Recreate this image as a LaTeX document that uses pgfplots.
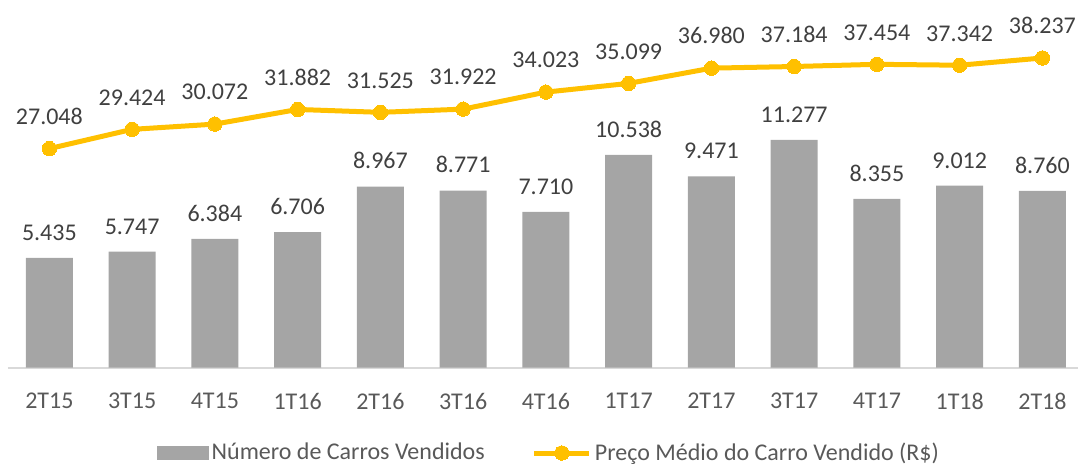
\documentclass[border=0pt]{standalone}
\usepackage{pgfplots}
\pgfplotsset{compat=1.18}
\usepackage{pgfplotstable}
\usepackage{fontspec}
\setmainfont{Carlito}
\definecolor{bargray}{HTML}{A5A5A5}
\definecolor{gold}{HTML}{FFC000}
\definecolor{lbl}{HTML}{404040}
\definecolor{tck}{HTML}{595959}
\definecolor{axl}{HTML}{D9D9D9}
\pgfplotsset{
  barleg/.style={legend image code/.code={\fill[bargray] (0pt,-3.3pt) rectangle (25.5pt,3.3pt);}},
  lineleg/.style={legend image code/.code={\draw[##1, mark repeat=2, mark phase=2] plot coordinates {(0pt,0pt) (13.8pt,0pt) (27.6pt,0pt)};}},
}
\pgfplotstableread{
x y lab
0 5.435 5.435
1 5.747 5.747
2 6.384 6.384
3 6.706 6.706
4 8.967 8.967
5 8.771 8.771
6 7.710 7.710
7 10.538 10.538
8 9.471 9.471
9 11.277 11.277
10 8.355 8.355
11 9.012 9.012
12 8.760 8.760
}\bars
\pgfplotstableread{
x y lab
0 27.048 27.048
1 29.424 29.424
2 30.072 30.072
3 31.882 31.882
4 31.525 31.525
5 31.922 31.922
6 34.023 34.023
7 35.099 35.099
8 36.980 36.980
9 37.184 37.184
10 37.454 37.454
11 37.342 37.342
12 38.237 38.237
}\price
\begin{document}
\begin{tikzpicture}[font=\fontsize{12}{14}\selectfont]
\useasboundingbox (0,0) rectangle (540pt,232pt);
\pgfplotsset{
  common/.style={
    scale only axis, width=535pt, height=178.85pt,
    at={(4pt,48.15pt)}, anchor=south west,
    xmin=-0.5, xmax=12.43, ymin=0,
  }
}
\begin{axis}[common, ymax=17.71,
  hide y axis, axis x line*=bottom,
  x axis line style={draw=axl, line width=1pt, -},
  xtick={0,...,12}, major tick length=0pt,
  xticklabels={2T15,3T15,4T15,1T16,2T16,3T16,4T16,1T17,2T17,3T17,4T17,1T18,2T18},
  xticklabel style={text=tck, anchor=north, inner sep=0pt, yshift=-12.5pt},
  ]
\addplot[ybar, bar width=23.5pt, fill=bargray, draw=none,
  point meta=explicit symbolic, nodes near coords,
  nodes near coords style={text=lbl, anchor=south, inner sep=0pt, yshift=8.5pt}]
  table[x=x, y=y, meta=lab] {\bars};
\end{axis}
\begin{axis}[common, ymax=44.16, hide x axis, hide y axis,
  legend columns=2,
  legend style={at={(0.506,-0.2385)}, anchor=center, draw=none, fill=none,
    inner sep=0pt, text=tck,
    /tikz/every even column/.append style={column sep=22pt},
    nodes={inner sep=1.5pt}},
  legend cell align=left,
  ]
\addlegendimage{barleg}
\addlegendentry{Número de Carros Vendidos}
\addplot[gold, line width=2.5pt, mark=*, mark size=3.6pt, mark options={fill=gold, draw=gold, line width=0pt},
  point meta=explicit symbolic, nodes near coords,
  nodes near coords style={text=lbl, anchor=south, inner sep=0pt, yshift=12pt},
  lineleg]
  table[x=x, y=y, meta=lab] {\price};
\addlegendentry{Preço Médio do Carro Vendido (R\$)}
\end{axis}
\end{tikzpicture}
\end{document}
